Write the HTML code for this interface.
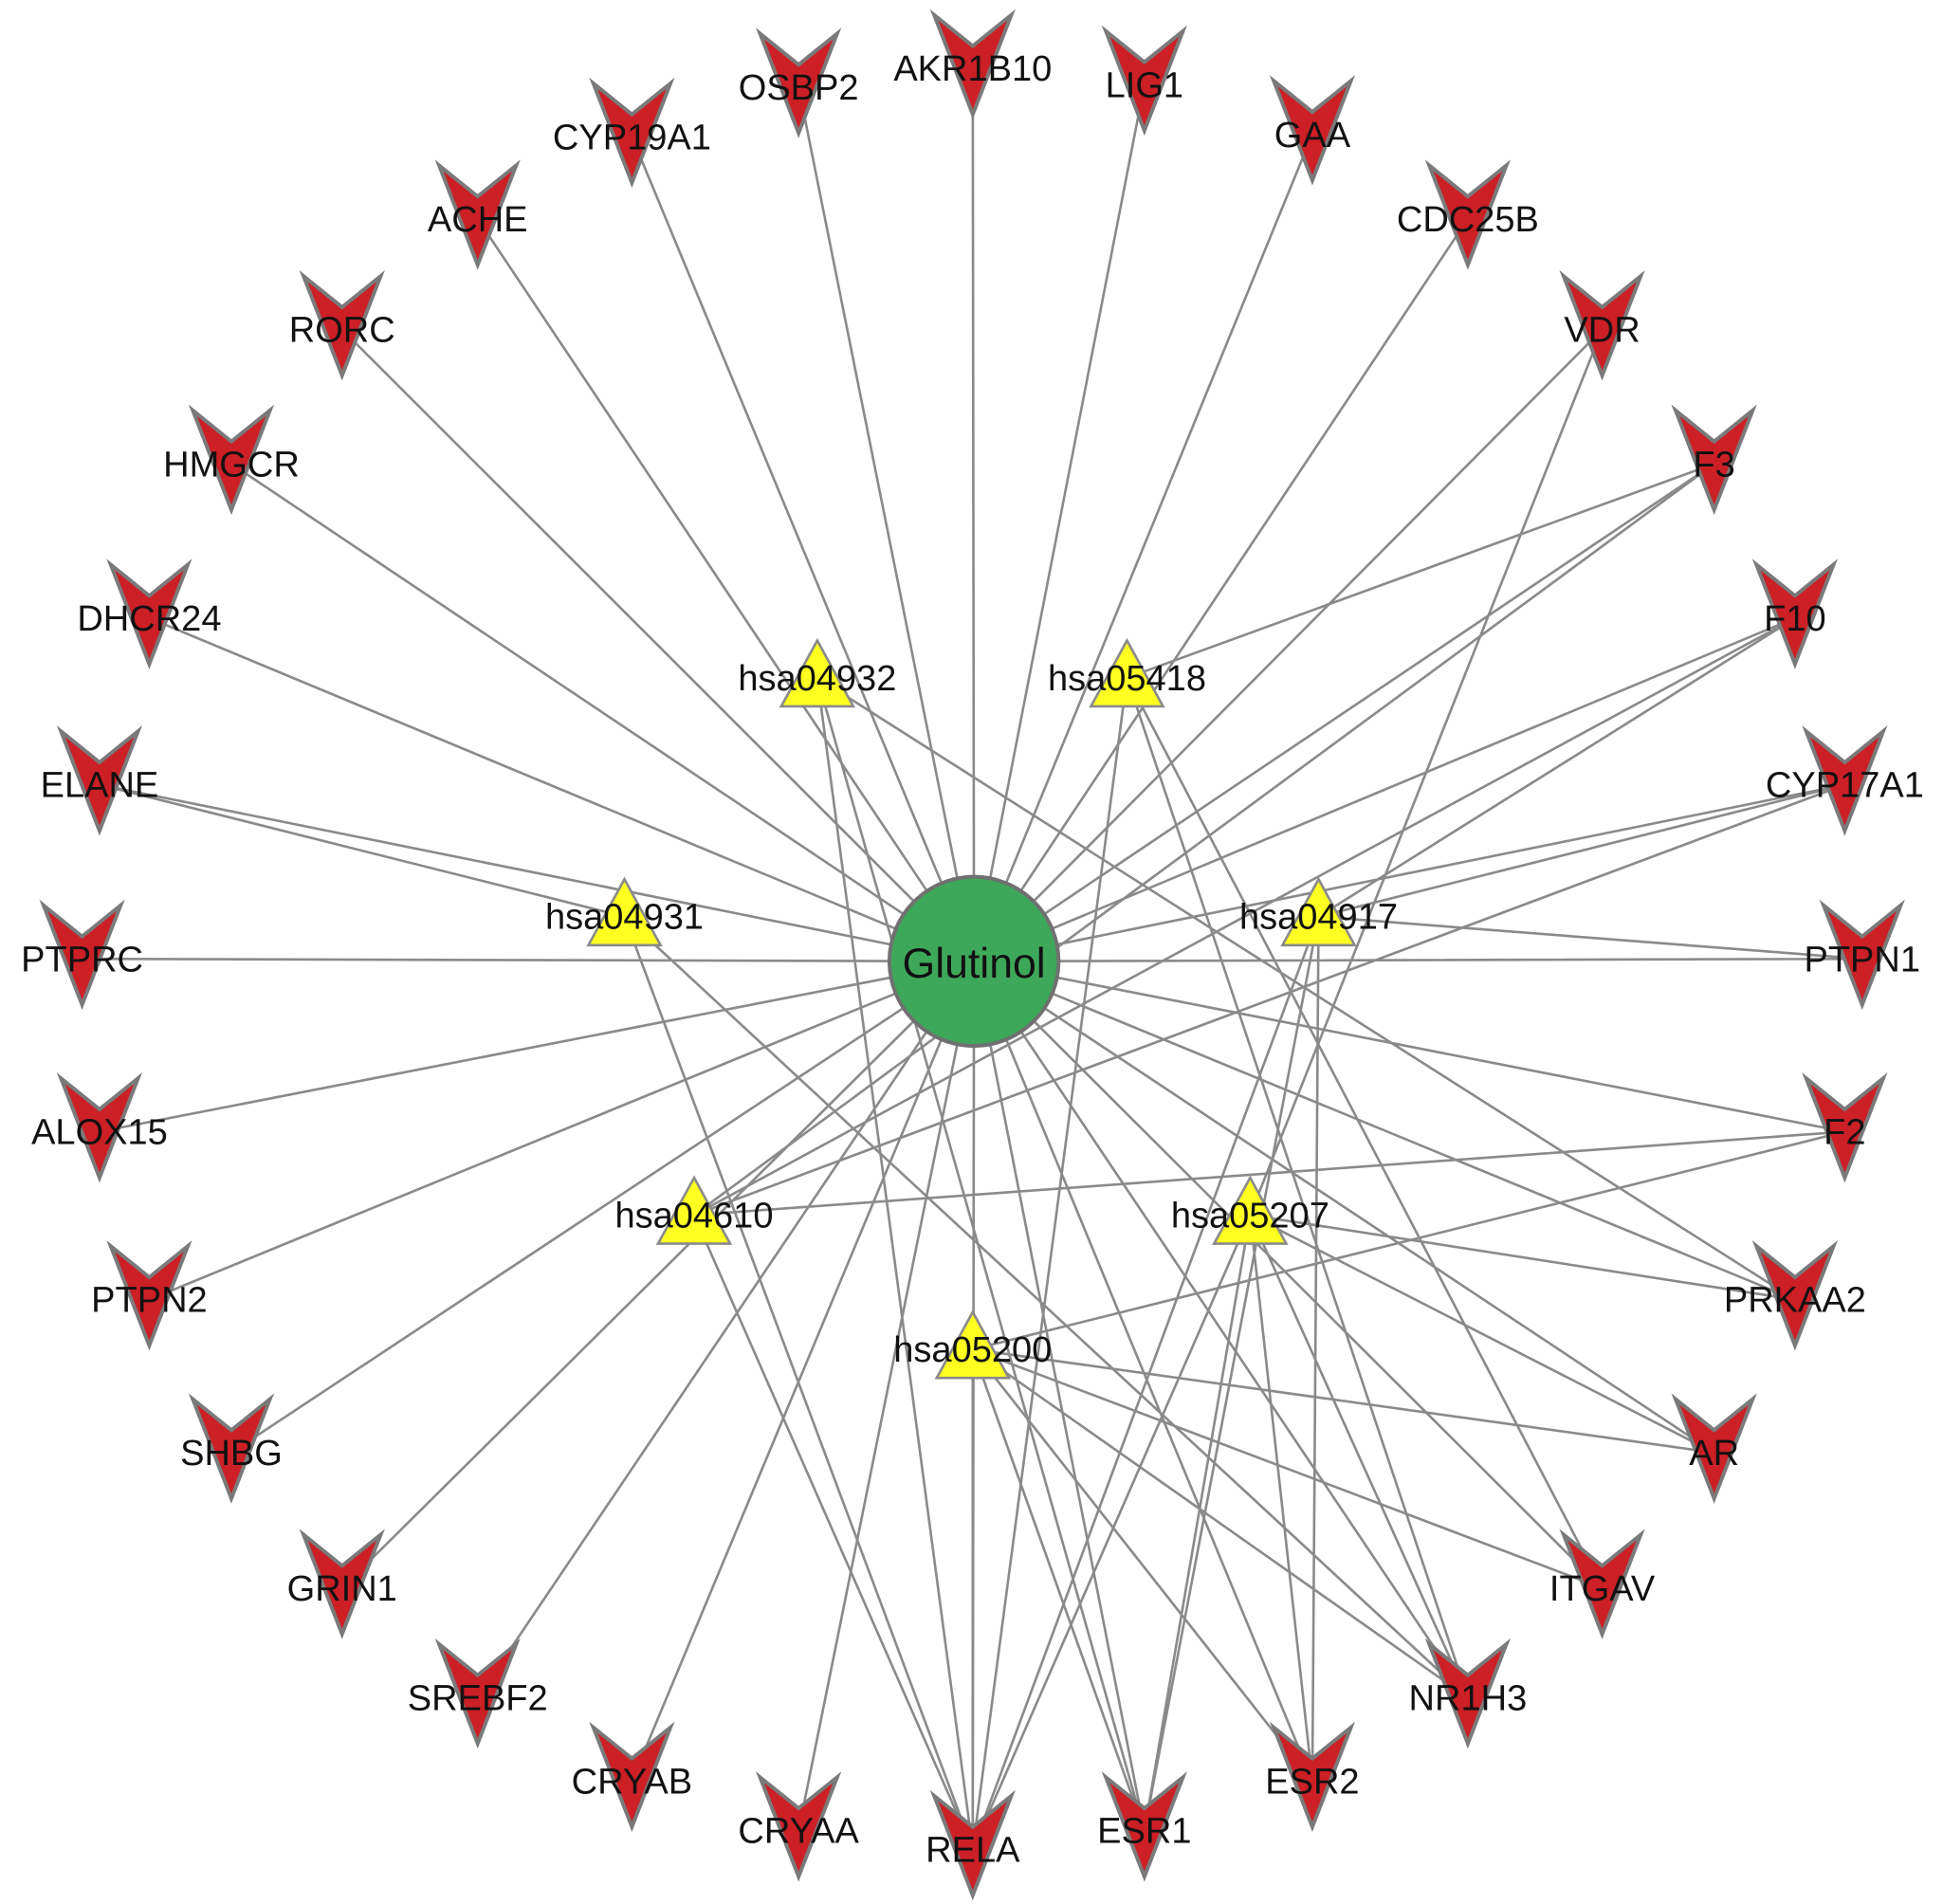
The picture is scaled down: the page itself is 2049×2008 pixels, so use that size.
<!DOCTYPE html>
<html><head><meta charset="utf-8"><style>html,body{margin:0;padding:0;background:#fff}svg{display:block}</style></head>
<body>
<svg width="2049" height="2008" viewBox="0 0 1562 1531" preserveAspectRatio="none" xmlns="http://www.w3.org/2000/svg" xmlns:xlink="http://www.w3.org/1999/xlink" font-family="Liberation Sans, Arial, sans-serif">
<defs>
<path id="v" d="M-31,-43 L0,-18 L31,-43 L0,37 Z" fill="#cc1f26" stroke="#7a7a7a" stroke-width="3"/>
<path id="t" d="M0,-30 L29,23 L-29,23 Z" fill="#ffff22" stroke="#8a8a8a" stroke-width="2"/>
</defs>
<path fill="none" stroke="#8a8a8a" stroke-width="2" d="
M783,773L782,55 M783,773L642,70 M783,773L920,68 M783,773L508,110 M783,773L1055,108 M783,773L384,176 M783,773L1180,176 M783,773L275,265 M783,773L1288,265 M783,773L186,373 M783,773L1378,373 M783,773L120,497 M783,773L1443,497 M783,773L80,631 M783,773L1483,631 M783,773L66,771 M783,773L1497,771 M783,773L80,910 M783,773L1483,910 M783,773L120,1045 M783,773L1443,1045 M783,773L186,1168 M783,773L1378,1168 M783,773L275,1277 M783,773L1288,1277 M783,773L384,1365 M783,773L1180,1365 M783,773L508,1432 M783,773L1055,1432 M783,773L642,1472 M783,773L920,1472 M783,773L782,1487
M657,545L782,1487 M657,545L1443,1045 M657,545L920,1472
M906,545L782,1487 M906,545L1288,1277 M906,545L1180,1365 M906,545L1378,373
M502,737L80,631 M502,737L782,1487 M502,737L1180,1365
M1060,737L1443,497 M1060,737L1483,631 M1060,737L1497,771 M1060,737L920,1472 M1060,737L1055,1432 M1060,737L782,1487
M558,977L1483,910 M558,977L1378,373 M558,977L1443,497 M558,977L1483,631 M558,977L782,1487
M1005,977L1288,265 M1005,977L920,1472 M1005,977L782,1487 M1005,977L1378,1168 M1005,977L1180,1365 M1005,977L1055,1432 M1005,977L1443,1045
M782,1085L782,1487 M782,1085L1483,910 M782,1085L1378,1168 M782,1085L1288,1277 M782,1085L920,1472 M782,1085L1055,1432 M782,1085L1180,1365"/>
<use xlink:href="#v" href="#v" transform="translate(782,55)"/>
<use xlink:href="#v" href="#v" transform="translate(642,70)"/>
<use xlink:href="#v" href="#v" transform="translate(920,68)"/>
<use xlink:href="#v" href="#v" transform="translate(508,110)"/>
<use xlink:href="#v" href="#v" transform="translate(1055,108)"/>
<use xlink:href="#v" href="#v" transform="translate(384,176)"/>
<use xlink:href="#v" href="#v" transform="translate(1180,176)"/>
<use xlink:href="#v" href="#v" transform="translate(275,265)"/>
<use xlink:href="#v" href="#v" transform="translate(1288,265)"/>
<use xlink:href="#v" href="#v" transform="translate(186,373)"/>
<use xlink:href="#v" href="#v" transform="translate(1378,373)"/>
<use xlink:href="#v" href="#v" transform="translate(120,497)"/>
<use xlink:href="#v" href="#v" transform="translate(1443,497)"/>
<use xlink:href="#v" href="#v" transform="translate(80,631)"/>
<use xlink:href="#v" href="#v" transform="translate(1483,631)"/>
<use xlink:href="#v" href="#v" transform="translate(66,771)"/>
<use xlink:href="#v" href="#v" transform="translate(1497,771)"/>
<use xlink:href="#v" href="#v" transform="translate(80,910)"/>
<use xlink:href="#v" href="#v" transform="translate(1483,910)"/>
<use xlink:href="#v" href="#v" transform="translate(120,1045)"/>
<use xlink:href="#v" href="#v" transform="translate(1443,1045)"/>
<use xlink:href="#v" href="#v" transform="translate(186,1168)"/>
<use xlink:href="#v" href="#v" transform="translate(1378,1168)"/>
<use xlink:href="#v" href="#v" transform="translate(275,1277)"/>
<use xlink:href="#v" href="#v" transform="translate(1288,1277)"/>
<use xlink:href="#v" href="#v" transform="translate(384,1365)"/>
<use xlink:href="#v" href="#v" transform="translate(1180,1365)"/>
<use xlink:href="#v" href="#v" transform="translate(508,1432)"/>
<use xlink:href="#v" href="#v" transform="translate(1055,1432)"/>
<use xlink:href="#v" href="#v" transform="translate(642,1472)"/>
<use xlink:href="#v" href="#v" transform="translate(920,1472)"/>
<use xlink:href="#v" href="#v" transform="translate(782,1487)"/>
<use xlink:href="#t" href="#t" transform="translate(657,545)"/>
<use xlink:href="#t" href="#t" transform="translate(906,545)"/>
<use xlink:href="#t" href="#t" transform="translate(502,737)"/>
<use xlink:href="#t" href="#t" transform="translate(1060,737)"/>
<use xlink:href="#t" href="#t" transform="translate(558,977)"/>
<use xlink:href="#t" href="#t" transform="translate(1005,977)"/>
<use xlink:href="#t" href="#t" transform="translate(782,1085)"/>
<circle cx="783" cy="773" r="68" fill="#3ea85a" stroke="#707070" stroke-width="3"/>
<g font-size="29" text-anchor="middle" fill="#111">
<text x="782" y="65">AKR1B10</text>
<text x="642" y="80">OSBP2</text>
<text x="920" y="78">LIG1</text>
<text x="508" y="120">CYP19A1</text>
<text x="1055" y="118">GAA</text>
<text x="384" y="186">ACHE</text>
<text x="1180" y="186">CDC25B</text>
<text x="275" y="275">RORC</text>
<text x="1288" y="275">VDR</text>
<text x="186" y="383">HMGCR</text>
<text x="1378" y="383">F3</text>
<text x="120" y="507">DHCR24</text>
<text x="1443" y="507">F10</text>
<text x="80" y="641">ELANE</text>
<text x="1483" y="641">CYP17A1</text>
<text x="66" y="781">PTPRC</text>
<text x="1497" y="781">PTPN1</text>
<text x="80" y="920">ALOX15</text>
<text x="1483" y="920">F2</text>
<text x="120" y="1055">PTPN2</text>
<text x="1443" y="1055">PRKAA2</text>
<text x="186" y="1178">SHBG</text>
<text x="1378" y="1178">AR</text>
<text x="275" y="1287">GRIN1</text>
<text x="1288" y="1287">ITGAV</text>
<text x="384" y="1375">SREBF2</text>
<text x="1180" y="1375">NR1H3</text>
<text x="508" y="1442">CRYAB</text>
<text x="1055" y="1442">ESR2</text>
<text x="642" y="1482">CRYAA</text>
<text x="920" y="1482">ESR1</text>
<text x="782" y="1497">RELA</text>
<text x="657" y="555">hsa04932</text>
<text x="906" y="555">hsa05418</text>
<text x="502" y="747">hsa04931</text>
<text x="1060" y="747">hsa04917</text>
<text x="558" y="987">hsa04610</text>
<text x="1005" y="987">hsa05207</text>
<text x="782" y="1095">hsa05200</text>
</g>
<text x="783" y="786" font-size="34" text-anchor="middle" fill="#111">Glutinol</text>
</svg>
</body></html>
